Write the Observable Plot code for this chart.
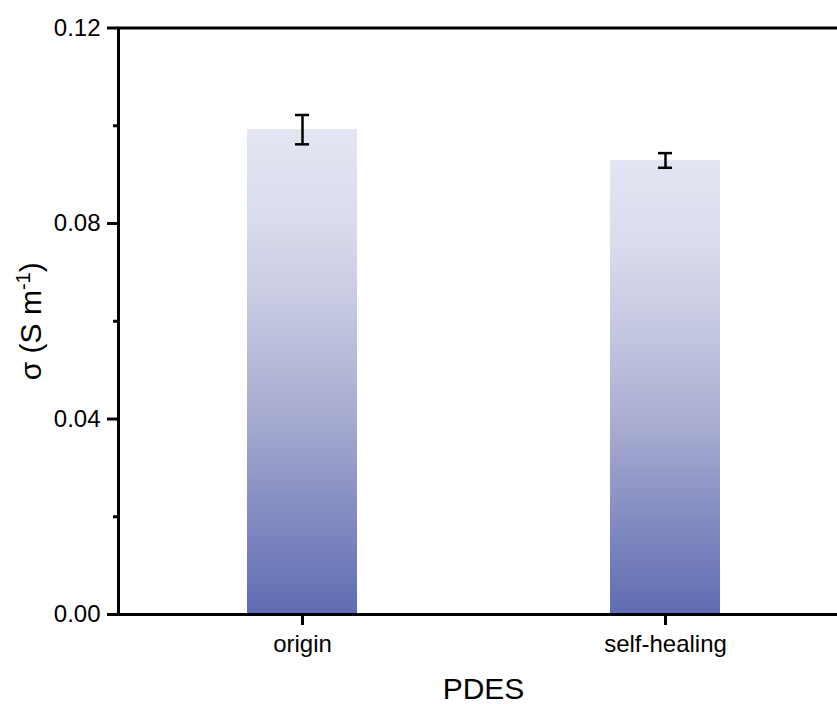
<!DOCTYPE html>
<html>
<head>
<meta charset="utf-8">
<script src="https://cdn.jsdelivr.net/npm/d3@7"></script>
<script src="https://cdn.jsdelivr.net/npm/@observablehq/plot@0.6"></script>
<style>
  html, body { margin: 0; padding: 0; background: #fff; overflow: hidden; }
  #chart svg { display: block; font-family: Arial, "Liberation Sans", sans-serif; }
</style>
</head>
<body>
<div id="chart"></div>
<script>
// Ionic conductivity of PDES, before and after self-healing
const categories = ["origin", "self-healing"];
const conductivity = [0.0992, 0.0929];   // σ, S m⁻¹
const errors = [0.0030, 0.0015];         // ± standard deviation
const majorTicks = [0, 0.04, 0.08, 0.12];
const minorTicks = [0.02, 0.06, 0.10];
const xLabel = "PDES";
const yLabelBase = "σ (S m";
const yLabelSup = "-1";
const yLabelEnd = ")";

const rows = categories.map((c, i) => ({
  name: c,
  value: conductivity[i],
  lo: conductivity[i] - errors[i],
  hi: conductivity[i] + errors[i]
}));

const font = 'Arial, "Liberation Sans", sans-serif';

const chart = Plot.plot({
  width: 837,
  height: 704,
  marginTop: 27.5,
  marginBottom: 90,
  marginLeft: 118,
  marginRight: -11,
  style: { fontFamily: font, color: "#000", background: "#fff" },
  x: { domain: categories, paddingInner: 0.698, paddingOuter: 0.352 },
  y: { domain: [0, 0.12] },
  marks: [
    Plot.barY(rows, { x: "name", y: "value", fill: "url(#barGrad)" }),
    Plot.ruleX(rows, { x: "name", y1: "lo", y2: "hi", stroke: "#000", strokeWidth: 2.5 }),
    Plot.tickY(rows, { x: "name", y: "lo", stroke: "#000", strokeWidth: 2.5, insetLeft: 48, insetRight: 48 }),
    Plot.tickY(rows, { x: "name", y: "hi", stroke: "#000", strokeWidth: 2.5, insetLeft: 48, insetRight: 48 }),
    Plot.frame({ stroke: "#000", strokeWidth: 3 }),
    Plot.axisY(majorTicks, {
      tickSize: 11, tickPadding: 7, strokeWidth: 3, fontSize: 24,
      tickFormat: d3.format(".2f"), label: null
    }),
    Plot.axisY(minorTicks, { tickSize: 5, strokeWidth: 3, text: null, label: null }),
    Plot.axisX(categories, {
      tickSize: 11, tickPadding: 9, strokeWidth: 3, fontSize: 24, label: null
    }),
    Plot.text([xLabel], {
      frameAnchor: "bottom", lineAnchor: "bottom", dy: 84, fontSize: 30, fill: "#000"
    }),
    Plot.text([yLabelBase + yLabelSup + yLabelEnd], {
      frameAnchor: "left", textAnchor: "middle", lineAnchor: "bottom",
      rotate: -90, dx: -78, fontSize: 30, fill: "#000"
    })
  ]
});

// vertical fading fill: each bar gets its own copy of the ramp
const defs = d3.select(chart).insert("defs", ":first-child");
const grad = defs.append("linearGradient")
  .attr("id", "barGrad").attr("x1", 0).attr("y1", 0).attr("x2", 0).attr("y2", 1);
[[0, "#e3e5f2"], [0.19, "#d9dcec"], [0.39, "#c3c6e0"], [0.6, "#a5aacf"], [0.81, "#8089c0"], [1, "#606cb2"]]
  .forEach(([o, c]) => grad.append("stop").attr("offset", o).attr("stop-color", c));

// set the unit exponent as a raised, smaller run of text
d3.select(chart).selectAll("text")
  .filter(function () { return this.textContent === yLabelBase + yLabelSup + yLabelEnd; })
  .each(function () {
    const t = d3.select(this);
    t.text(null);
    t.append("tspan").text(yLabelBase);
    t.append("tspan").attr("dy", -11).attr("font-size", 20).text(yLabelSup);
    t.append("tspan").attr("dy", 11).text(yLabelEnd);
  });

document.getElementById("chart").appendChild(chart);
</script>
</body>
</html>
